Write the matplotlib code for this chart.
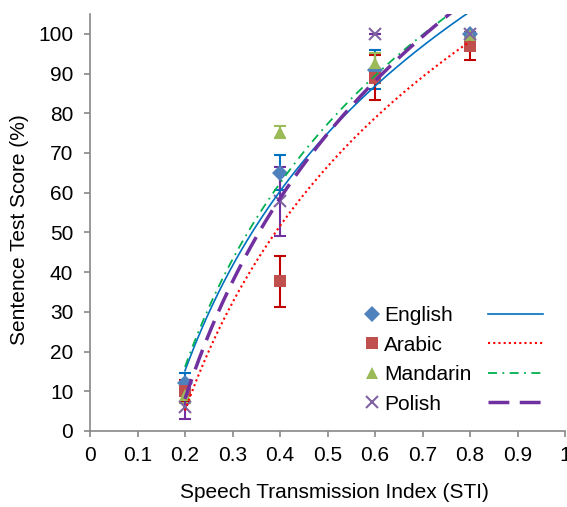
import numpy as np
import matplotlib
matplotlib.use("Agg")
from matplotlib import pyplot as plt
from matplotlib.lines import Line2D

plt.rcParams['font.family'] = ['Liberation Sans', 'DejaVu Sans']

# donnees
sti = [0.2, 0.4, 0.6, 0.8]
langues = ['English', 'Arabic', 'Mandarin', 'Polish']
english = [12, 65, 91, 100]
english_err = [2.7, 4.4, 5, 0.5]
arabic = [10, 37.7, 89, 97]
arabic_err = [2.8, 6.4, 5.6, 3.5]
mandarin = [9, 75.4, 92.6, 99.7]
mandarin_err = [2, 1.5, 2.5, 0.5]
polish = [6, 57.8, 100, 100]
polish_err = [3, 8.8, 0, 0]

series = [english, arabic, mandarin, polish]
erreurs = [english_err, arabic_err, mandarin_err, polish_err]
marqueurs = ['D', 's', '^', 'x']
couleurs_pts = ['#4F81BD', '#C0504D', '#9BBB59', '#8064A2']
couleurs_err = ['#0070C0', '#C00000', '#9BBB59', '#7030A0']
tailles = [8, 9, 9, 9]
couleurs_lig = ['#0070C0', '#FF0000', '#00B050', '#7030A0']
styles_lig = ['-', (0, (1, 1.5)), (0, (5, 3, 1, 3)), (0, (6, 3))]
largeurs = [1.2, 1.5, 1.3, 2.5]

fig = plt.figure(figsize=(5.67, 5.07), dpi=100)
ax = fig.add_axes([90/567, 76/507, 475/567, 417/507])

pts = []
lignes = []
for i in range(4):
    ax.errorbar(sti, series[i], yerr=erreurs[i], fmt='none', ecolor=couleurs_err[i],
                elinewidth=1.5, capsize=4.3, capthick=1.5, zorder=2)
    p, = ax.plot(sti, series[i], linestyle='none', marker=marqueurs[i], ms=tailles[i],
                 color=couleurs_pts[i], mew=1.5 if marqueurs[i] == 'x' else 0, zorder=3)
    pts.append(p)

# courbes de tendance logarithmiques (comme Excel)
xx = np.linspace(0.2, 0.8, 200)
for i in range(4):
    a, b = np.polyfit(np.log(sti), series[i], 1)
    l, = ax.plot(xx, a*np.log(xx) + b, color=couleurs_lig[i], linestyle=styles_lig[i],
                 lw=largeurs[i], zorder=4)
    lignes.append(l)

ax.set_xlim(0, 1)
ax.set_ylim(0, 105)
ax.set_xticks(np.arange(0, 1.01, 0.1))
ax.set_xticklabels(['0', '0.1', '0.2', '0.3', '0.4', '0.5', '0.6', '0.7', '0.8', '0.9', '1'])
ax.set_yticks(range(0, 101, 10))
for s in ['top', 'right']:
    ax.spines[s].set_visible(False)
for s in ['left', 'bottom']:
    ax.spines[s].set_color('#888888')
    ax.spines[s].set_linewidth(1.2)
ax.tick_params(axis='both', direction='out', length=4, width=1.2, color='#888888',
               labelsize=15)
ax.tick_params(axis='x', pad=7)
ax.tick_params(axis='y', pad=8)

ax.set_xlabel('Speech Transmission Index (STI)', fontsize=15)
ax.set_ylabel('Sentence Test Score (%)', fontsize=15)
ax.xaxis.set_label_coords((334 - 90)/475, -0.125)
ax.yaxis.set_label_coords(-0.128, 0.482)

leg1 = ax.legend(pts, langues, loc='upper left', bbox_to_anchor=(357/567, 1 - 298/507),
                 bbox_transform=fig.transFigure, frameon=False, fontsize=15,
                 handlelength=0.6, handletextpad=0.3, labelspacing=0.5, borderaxespad=0)
ax.add_artist(leg1)
ax.legend(lignes, [' '] * 4, loc='upper left', bbox_to_anchor=(480/567, 1 - 298/507),
          bbox_transform=fig.transFigure, frameon=False, fontsize=15,
          handlelength=2.6, handletextpad=0.1, labelspacing=0.5, borderaxespad=0)

fig.savefig('out.png', dpi=100)
